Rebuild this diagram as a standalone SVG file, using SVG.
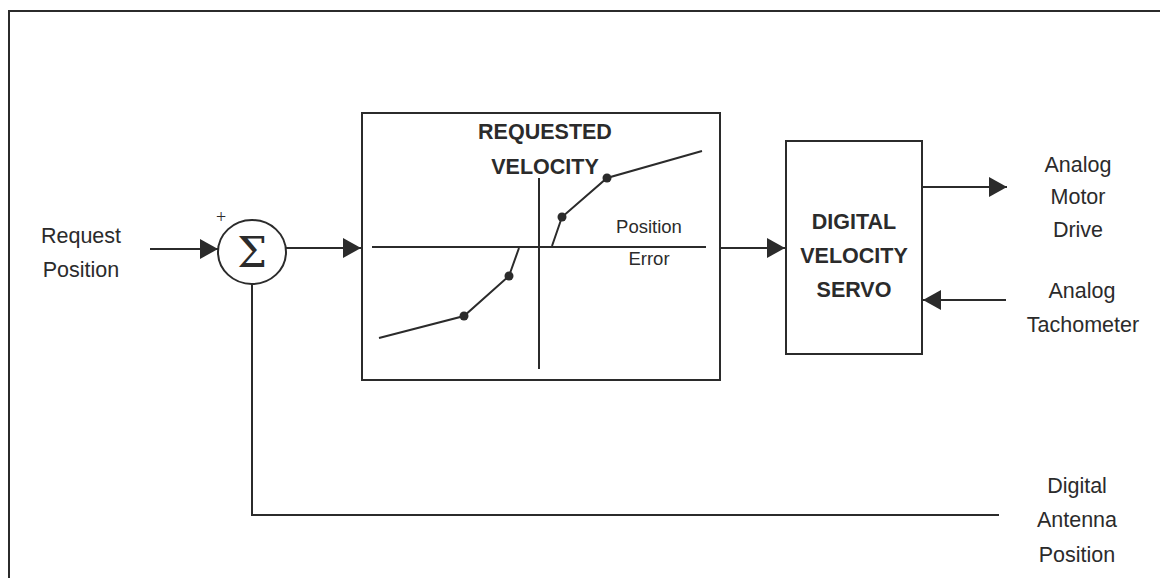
<svg xmlns="http://www.w3.org/2000/svg" width="1160" height="578" viewBox="0 0 1160 578">
<style>
.ln{stroke:#2b2b2b;stroke-width:2;fill:none}
.box{stroke:#2b2b2b;stroke-width:2;fill:#fff}
.t{font-family:"Liberation Sans",Arial,sans-serif;font-size:21.5px;fill:#2b2b2b;text-anchor:middle}
.tb{font-family:"Liberation Sans",Arial,sans-serif;font-size:21.5px;font-weight:bold;fill:#2b2b2b;text-anchor:middle}
.ts{font-family:"Liberation Sans",Arial,sans-serif;font-size:18.5px;fill:#2b2b2b;text-anchor:middle}
.dot{fill:#2b2b2b}
</style>
<defs>
<marker id="ah" markerWidth="18" markerHeight="20" refX="18" refY="10" orient="auto" markerUnits="userSpaceOnUse">
<path d="M0,0 L18,10 L0,20 Z" fill="#2b2b2b"/>
</marker>
</defs>
<rect width="1160" height="578" fill="#fff"/>
<path class="ln" d="M9,590 L9,11 L1165,11"/>
<g id="connectors">
<line class="ln" x1="150" y1="249" x2="218" y2="249" marker-end="url(#ah)"/>
<line class="ln" x1="286" y1="248" x2="361" y2="248" marker-end="url(#ah)"/>
<line class="ln" x1="720" y1="248" x2="785" y2="248" marker-end="url(#ah)"/>
<line class="ln" x1="922" y1="187" x2="1007" y2="187" marker-end="url(#ah)"/>
<line class="ln" x1="1006" y1="300" x2="923" y2="300" marker-end="url(#ah)"/>
<path class="ln" d="M252,284 L252,515 L999,515"/>
</g>
<g id="request-position">
<text class="t" x="81" y="243">Request</text>
<text class="t" x="81" y="277">Position</text>
</g>
<g id="sum">
<ellipse class="box" cx="252" cy="252" rx="34" ry="32"/>
<text x="252" y="267" font-family="'DejaVu Serif','Liberation Serif',serif" font-size="42" fill="#2b2b2b" text-anchor="middle">Σ</text>
<text x="221" y="223" font-family="'Liberation Serif',serif" font-size="18" fill="#2b2b2b" text-anchor="middle">+</text>
</g>
<g id="requested-velocity">
<rect class="box" x="362" y="113" width="358" height="267"/>
<text class="tb" x="545" y="139">REQUESTED</text>
<text class="tb" x="545" y="174">VELOCITY</text>
<line class="ln" x1="372" y1="247" x2="706" y2="247"/>
<line class="ln" x1="539" y1="178" x2="539" y2="369"/>
<polyline class="ln" points="379,338 464,316 509,276 519,248"/>
<polyline class="ln" points="552,246 562,217 607,178 702,151"/>
<circle class="dot" cx="464" cy="316" r="4.5"/>
<circle class="dot" cx="509" cy="276" r="4.5"/>
<circle class="dot" cx="562" cy="217" r="4.5"/>
<circle class="dot" cx="607" cy="178" r="4.5"/>
<text class="ts" x="649" y="233">Position</text>
<text class="ts" x="649" y="265">Error</text>
</g>
<g id="digital-velocity-servo">
<rect class="box" x="786" y="141" width="136" height="213"/>
<text class="tb" x="854" y="229">DIGITAL</text>
<text class="tb" x="854" y="263">VELOCITY</text>
<text class="tb" x="854" y="297">SERVO</text>
</g>
<g id="analog-motor-drive">
<text class="t" x="1078" y="172">Analog</text>
<text class="t" x="1078" y="204">Motor</text>
<text class="t" x="1078" y="237">Drive</text>
</g>
<g id="analog-tachometer">
<text class="t" x="1082" y="298">Analog</text>
<text class="t" x="1083" y="332">Tachometer</text>
</g>
<g id="digital-antenna-position">
<text class="t" x="1077" y="493">Digital</text>
<text class="t" x="1077" y="527">Antenna</text>
<text class="t" x="1077" y="562">Position</text>
</g>
</svg>
